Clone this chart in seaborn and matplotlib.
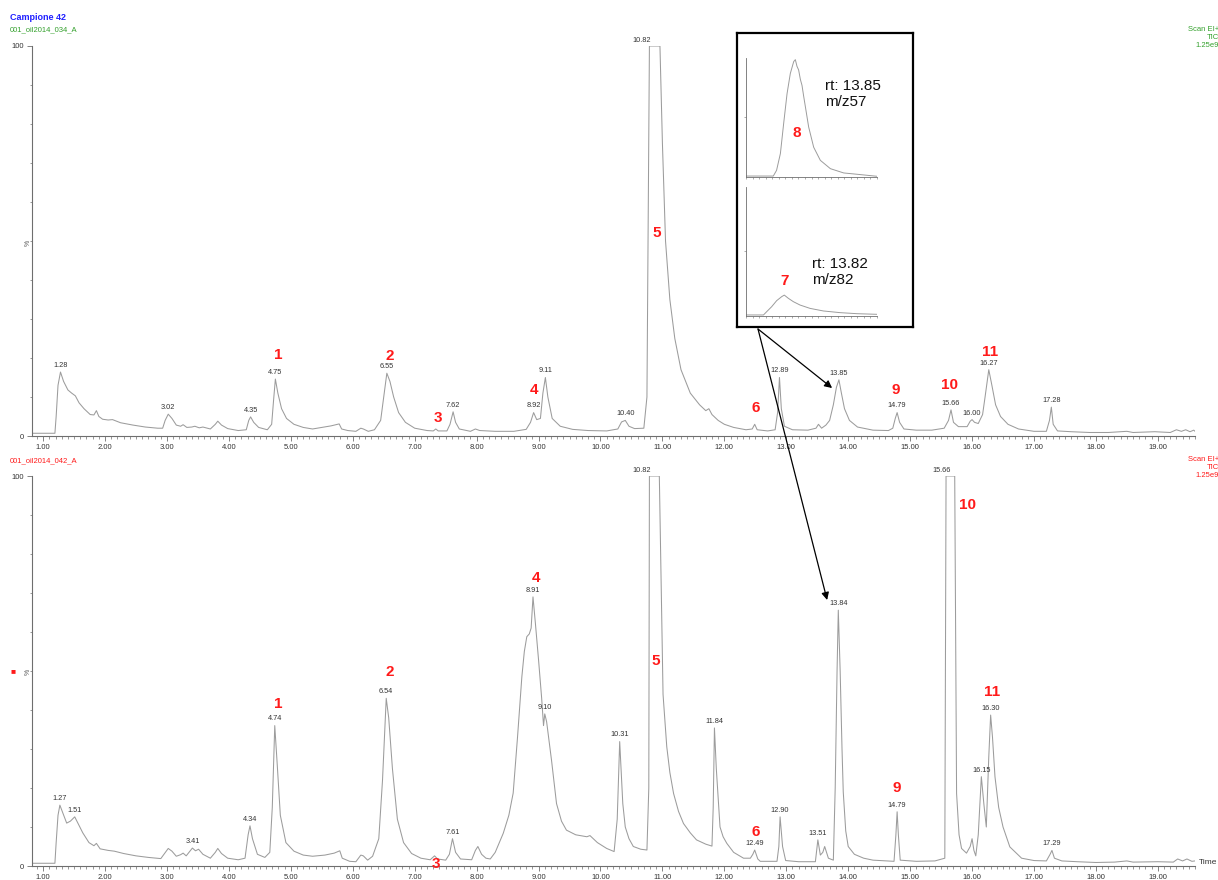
import numpy as np
import pandas as pd
import seaborn as sns
import matplotlib.pyplot as plt

sns.set_style("ticks")
plt.rcParams['font.family'] = ['Liberation Sans', 'DejaVu Sans']

# --- sample 034 (top trace), retention time in minutes / relative intensity %
top_time = [0.82, 1.19, 1.21, 1.24, 1.28, 1.33, 1.40, 1.46, 1.52, 1.58, 1.66, 1.76, 1.82, 1.86, 1.90, 1.96,
            2.05, 2.12, 2.25, 2.45, 2.65, 2.85, 2.93, 2.97, 3.02, 3.08, 3.15, 3.22, 3.26, 3.32, 3.40, 3.45,
            3.52, 3.58, 3.70, 3.78, 3.82, 3.88, 3.98, 4.15, 4.28, 4.32, 4.35, 4.40, 4.48, 4.62, 4.69, 4.72,
            4.75, 4.79, 4.85, 4.93, 5.05, 5.20, 5.35, 5.50, 5.65, 5.78, 5.82, 5.92, 6.05, 6.13, 6.17, 6.25,
            6.35, 6.45, 6.50, 6.55, 6.60, 6.66, 6.74, 6.85, 7.00, 7.20, 7.30, 7.34, 7.38, 7.52, 7.57, 7.62,
            7.66, 7.72, 7.90, 7.98, 8.05, 8.30, 8.60, 8.80, 8.87, 8.92, 8.97, 9.03, 9.07, 9.11, 9.15, 9.22,
            9.35, 9.55, 9.80, 10.10, 10.28, 10.34, 10.40, 10.46, 10.55, 10.70, 10.75, 10.79, 10.96, 11.00,
            11.05, 11.12, 11.20, 11.30, 11.45, 11.60, 11.70, 11.75, 11.80, 11.90, 12.00, 12.15, 12.35, 12.45,
            12.49, 12.53, 12.70, 12.82, 12.86, 12.89, 12.92, 12.97, 13.10, 13.35, 13.48, 13.52, 13.57, 13.64,
            13.70, 13.76, 13.81, 13.85, 13.89, 13.94, 14.02, 14.15, 14.40, 14.65, 14.72, 14.76, 14.79, 14.83,
            14.90, 15.10, 15.35, 15.55, 15.62, 15.66, 15.70, 15.78, 15.92, 15.97, 16.00, 16.04, 16.10, 16.17,
            16.21, 16.27, 16.32, 16.38, 16.46, 16.58, 16.75, 17.00, 17.20, 17.25, 17.28, 17.31, 17.38, 17.60,
            17.90, 18.20, 18.50, 18.60, 18.95, 19.20, 19.30, 19.38, 19.45, 19.52, 19.58, 19.60]
top_value = [0.7, 0.7, 5, 13, 16.4, 14, 11.8, 11, 10.3, 8.5, 7, 5.5, 5.4, 6.5, 5, 4.3,
             4.1, 4.2, 3.4, 2.8, 2.3, 2, 2, 4, 5.6, 4.5, 2.8, 2.5, 2.9, 2.2, 2.3, 2.5,
             2.1, 2.3, 1.8, 3, 3.8, 2.8, 1.9, 1.4, 1.6, 4, 4.9, 3.5, 2.2, 1.6, 3, 9,
             14.6, 11, 7, 4.5, 3, 2.2, 1.8, 2.2, 2.6, 3.1, 1.8, 1.4, 1.2, 2, 1.8, 1.2,
             1.6, 4, 10, 16.1, 14, 10, 6, 3.5, 2, 1.4, 1.3, 1.8, 1.3, 1.3, 3, 6.2,
             3.5, 1.8, 1.2, 1.8, 1.4, 1.2, 1.2, 1.7, 3.5, 6, 4.2, 4.5, 11, 15, 10, 4.5,
             2.5, 1.7, 1.4, 1.3, 1.8, 3.6, 4, 2.5, 1.9, 2, 10, 100, 100, 75,
             50, 35, 25, 17, 11, 8, 6.5, 7, 5.5, 4, 3, 2.2, 1.6, 1.8,
             3, 1.6, 1.3, 1.6, 6, 15, 7, 2.5, 1.6, 1.5, 2, 3, 2, 2.8,
             4, 8, 12.5, 14.4, 11, 7, 4, 2.3, 1.5, 1.4, 2, 4.5, 6, 3.5,
             1.8, 1.5, 1.5, 2, 4, 6.7, 3.5, 2.4, 2.4, 3.8, 4.2, 3.5, 3.2, 5.5,
             10, 17, 13, 8, 5, 3, 1.8, 1.2, 1.2, 4, 7.4, 3, 1.3, 1.1,
             0.9, 0.9, 1.2, 0.9, 1.1, 0.9, 1.6, 1.2, 1.6, 1.1, 1.5, 1.2]

# --- sample 042 (bottom trace)
bot_time = [0.82, 1.19, 1.21, 1.24, 1.27, 1.32, 1.38, 1.44, 1.51, 1.56, 1.64, 1.74, 1.82, 1.86, 1.92, 2.05,
            2.15, 2.30, 2.50, 2.70, 2.90, 2.96, 3.02, 3.08, 3.15, 3.22, 3.26, 3.31, 3.37, 3.41, 3.46, 3.51,
            3.58, 3.70, 3.78, 3.82, 3.88, 3.98, 4.15, 4.26, 4.31, 4.34, 4.38, 4.46, 4.58, 4.66, 4.70, 4.74,
            4.78, 4.83, 4.92, 5.05, 5.20, 5.35, 5.55, 5.70, 5.79, 5.83, 5.95, 6.05, 6.13, 6.17, 6.24, 6.32,
            6.42, 6.48, 6.54, 6.58, 6.64, 6.72, 6.82, 6.95, 7.10, 7.25, 7.32, 7.37, 7.50, 7.56, 7.61, 7.66,
            7.74, 7.92, 7.98, 8.02, 8.08, 8.15, 8.22, 8.30, 8.43, 8.52, 8.59, 8.66, 8.73, 8.77, 8.81, 8.85,
            8.88, 8.91, 8.95, 9.00, 9.05, 9.08, 9.10, 9.13, 9.17, 9.21, 9.29, 9.37, 9.45, 9.60, 9.78, 9.83,
            9.95, 10.10, 10.22, 10.27, 10.31, 10.36, 10.40, 10.46, 10.53, 10.65, 10.75, 10.78, 10.79, 10.95,
            11.01, 11.07, 11.12, 11.18, 11.26, 11.34, 11.45, 11.55, 11.70, 11.80, 11.82, 11.84, 11.87, 11.93,
            11.98, 12.04, 12.15, 12.31, 12.42, 12.46, 12.49, 12.54, 12.58, 12.85, 12.88, 12.90, 12.94, 12.99,
            13.20, 13.47, 13.51, 13.55, 13.59, 13.62, 13.68, 13.76, 13.79, 13.82, 13.84, 13.87, 13.90, 13.92,
            13.96, 14.00, 14.10, 14.25, 14.40, 14.74, 14.77, 14.79, 14.81, 14.84, 15.10, 15.40, 15.56, 15.58,
            15.72, 15.75, 15.79, 15.83, 15.91, 15.97, 16.00, 16.03, 16.06, 16.10, 16.15, 16.19, 16.23, 16.27,
            16.30, 16.33, 16.37, 16.43, 16.50, 16.61, 16.80, 17.00, 17.20, 17.26, 17.29, 17.33, 17.45, 17.70,
            18.00, 18.30, 18.50, 18.60, 19.00, 19.25, 19.32, 19.40, 19.47, 19.55, 19.60]
bot_value = [0.7, 0.7, 6, 13, 15.6, 13.5, 11, 11.5, 12.6, 11, 8.5, 6, 5.2, 5.8, 4.4, 4,
             3.8, 3.2, 2.6, 2.2, 1.9, 3.2, 4.5, 3.8, 2.5, 2.9, 3.3, 2.6, 3.8, 4.6, 3.9, 4.3,
             3, 2, 3.5, 4.5, 3.2, 2, 1.6, 2, 8, 10.3, 7, 3, 2.2, 3.5, 15, 36,
             26, 13, 6, 3.8, 2.8, 2.5, 2.8, 3.3, 3.9, 2, 1.2, 1.1, 2.8, 2.6, 1.5, 2.5,
             7, 22, 43, 38, 25, 12, 6, 3.2, 2, 1.6, 2.6, 1.8, 1.5, 3, 7, 3.5,
             1.8, 1.6, 4, 5, 3, 2, 1.8, 3.5, 8.4, 13, 18.7, 33, 48.5, 55, 58.8, 59.5,
             61, 69, 62, 52.8, 43, 36, 39, 37, 32, 27, 16, 11.5, 9.2, 8, 7.5, 7.8,
             6, 4.5, 3.7, 12, 31.9, 16, 10, 7, 5, 4.3, 4.1, 20, 100, 100,
             44, 30.6, 24, 18.6, 14, 10.9, 8.5, 6.7, 5.6, 5.1, 15, 35.4, 25, 10,
             7.5, 5.8, 3.5, 2, 2, 3, 4.1, 1.8, 1.2, 1.2, 5, 12.6, 5, 1.4,
             1.1, 1.1, 6.7, 2.8, 3.5, 5, 2, 1.5, 20, 50, 65.6, 50, 30, 19,
             9, 5, 3, 2, 1.5, 1.2, 8, 13.9, 8, 1.5, 1.2, 1.3, 2, 100,
             100, 18.6, 8, 4.5, 3.3, 5, 7, 4, 2.6, 8, 22.9, 16, 10, 28,
             38.7, 33, 22.9, 15, 10, 4.9, 2, 1.4, 1.3, 3, 4, 2, 1.3, 1.1,
             0.9, 1.0, 1.3, 1.0, 1.1, 1.0, 1.8, 1.3, 1.8, 1.2, 1.3]

# labelled retention times
top_rt_labels = [1.28, 3.02, 4.35, 4.75, 6.55, 7.62, 8.92, 9.11, 10.40, 10.82, 12.89, 13.85, 14.79,
                 15.66, 16.00, 16.27, 17.28]
bot_rt_labels = [1.27, 1.51, 3.41, 4.34, 4.74, 6.54, 7.61, 8.91, 9.10, 10.31, 10.82, 11.84, 12.49,
                 12.90, 13.51, 13.84, 14.79, 15.66, 16.15, 16.30, 17.29]

# compound numbers (red) and where they are written (time, %)
top_ids = ["1", "2", "3", "4", "5", "6", "9", "10", "11"]
top_id_pos = [(4.79, 20.8), (6.60, 20.5), (7.38, 4.6), (8.93, 11.8), (10.91, 52), (12.51, 7.2),
              (14.76, 11.8), (15.64, 13), (16.29, 21.5)]
bot_ids = ["1", "2", "3", "4", "5", "6", "9", "10", "11"]
bot_id_pos = [(4.79, 41.5), (6.59, 49.7), (7.34, 0.6), (8.96, 73.8), (10.90, 52.6), (12.51, 8.7),
              (14.79, 20), (15.92, 92.6), (16.32, 44.6)]

# inset: extracted ion chromatograms
mz57_time = [13.40, 13.65, 13.68, 13.715, 13.745, 13.776, 13.806, 13.837, 13.852, 13.867, 13.882,
             13.898, 13.913, 13.928, 13.944, 13.974, 14.02, 14.081, 14.173, 14.295, 14.417, 14.60]
mz57_value = [0.8, 0.8, 5.6, 19.7, 45, 70, 87, 97, 98.6, 93, 90, 82, 77, 68, 59, 42, 25, 14, 7,
              3.4, 2.3, 0.6]
mz82_time = [13.40, 13.56, 13.59, 13.635, 13.681, 13.727, 13.751, 13.788, 13.834, 13.895, 13.987,
             14.109, 14.262, 14.415, 14.60]
mz82_value = [0.8, 0.8, 3.4, 7.2, 11.9, 15, 16.2, 13.7, 11.1, 8.5, 5.9, 3.9, 2.6, 1.8, 1.3]

W, H = 1218, 880
TRACE = "#9c9c9c"
AXC = "#6e6e6e"
RED = "#ff1a1a"
GREEN = "#33a02c"
BLUE = "#1f1fff"


def px(x, y):
    return x / W, 1 - y / H


def chrom_axis(ax, df):
    sns.lineplot(data=df, x="time", y="value", ax=ax, color=TRACE, lw=0.75, estimator=None)
    ax.set_xlim(0.82, 19.60)
    ax.set_ylim(0, 100)
    ax.set_facecolor("none")
    for s in ["top", "right"]:
        ax.spines[s].set_visible(False)
    for s in ["left", "bottom"]:
        ax.spines[s].set_color(AXC)
        ax.spines[s].set_linewidth(0.8)
    ax.set_xticks(range(1, 20))
    ax.set_xticklabels([f"{t:.2f}" for t in range(1, 20)])
    ax.set_xticks(np.arange(0.9, 19.61, 0.1), minor=True)
    ax.set_yticks([0, 100])
    ax.set_yticklabels(["0", "100"])
    ax.set_yticks(range(10, 100, 10), minor=True)
    ax.tick_params(axis="both", which="major", length=3.5, width=0.6, color=AXC, labelsize=5.5,
                   labelcolor="#333333", pad=2)
    ax.tick_params(axis="both", which="minor", length=1.8, width=0.5, color=AXC)
    ax.set_xlabel("")
    ax.set_ylabel("")


def peak_labels(ax, df, rts, ids, id_pos):
    for rt in rts:
        v = np.interp(rt, df["time"], df["value"])
        if v >= 100:
            ax.text(rt, 100.5, f"{rt:.2f}", ha="right", va="bottom", fontsize=5.3, color="#333333")
        else:
            ax.text(rt, v + 0.8, f"{rt:.2f}", ha="center", va="bottom", fontsize=5.3, color="#333333")
    for lab, (t, v) in zip(ids, id_pos):
        ax.text(t, v, lab, ha="center", va="center", fontsize=11, fontweight="bold", color=RED,
                clip_on=False)


top_df = pd.DataFrame({"time": top_time, "value": top_value})
bot_df = pd.DataFrame({"time": bot_time, "value": bot_value})

fig = plt.figure(figsize=(W / 100, H / 100), dpi=100)

ax_top = fig.add_axes([32 / W, 1 - 436 / H, (1195 - 32) / W, 390 / H])
chrom_axis(ax_top, top_df)
peak_labels(ax_top, top_df, top_rt_labels, top_ids, top_id_pos)

ax_bot = fig.add_axes([32 / W, 1 - 866 / H, (1195 - 32) / W, 390 / H])
chrom_axis(ax_bot, bot_df)
peak_labels(ax_bot, bot_df, bot_rt_labels, bot_ids, bot_id_pos)

# header / trace info texts
fig.text(*px(10, 18), "Campione 42", color=BLUE, fontsize=6.5, fontweight="bold", va="center")
fig.text(*px(10, 30), "001_oil2014_034_A", color=GREEN, fontsize=5.5, va="center")
fig.text(*px(10, 461), "001_oil2014_042_A", color=RED, fontsize=5.5, va="center")
fig.text(*px(1219, 26), "Scan EI+\nTIC\n1.25e9", color=GREEN, fontsize=5.5, ha="right", va="top",
         multialignment="right")
fig.text(*px(1219, 456), "Scan EI+\nTIC\n1.25e9", color=RED, fontsize=5.5, ha="right", va="top",
         multialignment="right")
fig.text(*px(28, 243), "%", rotation=90, fontsize=5, color="#555555", ha="center", va="center")
fig.text(*px(28, 672), "%", rotation=90, fontsize=5, color="#555555", ha="center", va="center")
fig.text(*px(13, 672), "■", fontsize=6, color=RED, ha="center", va="center")
fig.text(*px(1199, 862), "Time", fontsize=6, color="#333333", ha="left", va="center")

# inset with the two extracted-ion traces
ax_box = fig.add_axes([737 / W, 1 - 327 / H, 176 / W, 294 / H])
ax_box.set_xticks([])
ax_box.set_yticks([])
for s in ax_box.spines.values():
    s.set_color("black")
    s.set_linewidth(1.6)

inset = [
    (pd.DataFrame({"time": mz57_time, "value": mz57_value}), [746, 177, 131, 119], "rt: 13.85\nm/z57",
     (825, 94), "8", (797, 133)),
    (pd.DataFrame({"time": mz82_time, "value": mz82_value}), [746, 316, 131, 129], "rt: 13.82\nm/z82",
     (812, 272), "7", (785, 281)),
]
for df, (l, b, w, h), txt, tpos, num, npos in inset:
    ax_m = fig.add_axes([l / W, 1 - b / H, w / W, h / H])
    sns.lineplot(data=df, x="time", y="value", ax=ax_m, color=TRACE, lw=0.7, estimator=None)
    ax_m.set_xlim(13.40, 14.60)
    ax_m.set_ylim(0, 100)
    ax_m.set_facecolor("none")
    for s in ["top", "right"]:
        ax_m.spines[s].set_visible(False)
    for s in ["left", "bottom"]:
        ax_m.spines[s].set_color(AXC)
        ax_m.spines[s].set_linewidth(0.6)
    ax_m.set_xticks(np.arange(13.40, 14.61, 0.06))
    ax_m.set_yticks([50])
    ax_m.tick_params(length=1.5, width=0.4, color=AXC, labelbottom=False, labelleft=False)
    ax_m.set_xlabel("")
    ax_m.set_ylabel("")
    fig.text(*px(*tpos), txt, fontsize=11, color="#111111", ha="left", va="center", linespacing=1.25)
    fig.text(*px(*npos), num, fontsize=11, fontweight="bold", color=RED, ha="center", va="center")

# arrows from the inset to the peak in both traces
start = px(758, 329)
ax_top.annotate("", xy=(13.74, 12.3), xycoords="data", xytext=start, textcoords="figure fraction",
                arrowprops=dict(arrowstyle="-|>", color="black", lw=0.9, shrinkA=0, shrinkB=0,
                                mutation_scale=11), annotation_clip=False)
ax_bot.annotate("", xy=(13.66, 68.2), xycoords="data", xytext=start, textcoords="figure fraction",
                arrowprops=dict(arrowstyle="-|>", color="black", lw=0.9, shrinkA=0, shrinkB=0,
                                mutation_scale=11), annotation_clip=False)

fig.savefig("out.png", dpi=100)
